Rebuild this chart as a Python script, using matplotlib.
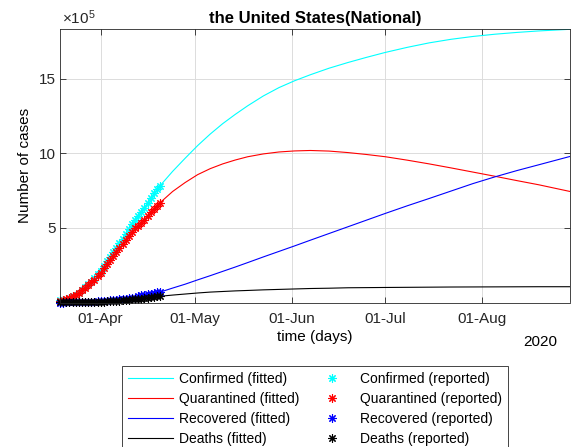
import datetime as dt
import matplotlib.pyplot as plt
import matplotlib.dates as mdates
from matplotlib.ticker import FuncFormatter

plt.rcParams['font.family'] = ['Liberation Sans', 'DejaVu Sans']
plt.rcParams['mathtext.fontset'] = 'custom'
plt.rcParams['mathtext.rm'] = 'Liberation Sans'

start = dt.date(2020, 3, 19)
end = dt.date(2020, 8, 29)

# reported data, one value per day from 19-Mar to 20-Apr
confirmed_rep = [13677, 19100, 25489, 33272, 43847, 53740, 65778, 83836, 101657,
                 121465, 140909, 161831, 188172, 213242, 243622, 275367, 308650,
                 336802, 366317, 397121, 428654, 462780, 496535, 526396, 555313,
                 580619, 607670, 636350, 667592, 699706, 732197, 759086, 784326]
quarantined_rep = [13369, 18709, 25006, 32667, 43117, 52686, 64475, 81946, 99207,
                   118367, 135777, 153209, 177275, 200011, 228695, 258573, 285591,
                   309735, 335953, 362636, 390400, 420892, 449159, 474663, 500305,
                   513608, 534075, 555929, 579973, 604388, 628693, 648088, 669903]
recovered_rep = [108, 147, 176, 178, 178, 348, 361, 681, 869, 1072, 2665, 5644,
                 7024, 8474, 9001, 9707, 14652, 17448, 19581, 21763, 23559, 25410,
                 28790, 31270, 32988, 43482, 47763, 52096, 54703, 58545, 64840,
                 70337, 72329]
deaths_rep = [200, 244, 307, 427, 552, 706, 942, 1209, 1581, 2026, 2467, 2978,
              3873, 4757, 5926, 7087, 8407, 9619, 10783, 12722, 14695, 16478,
              18586, 20463, 22020, 23529, 25832, 28325, 32916, 36773, 38664,
              40661, 42094]

# fitted model curves (x1e5), read at these day offsets from 19-Mar
fit_days = [0, 4, 8, 12, 16, 20, 24, 28, 32, 36, 40, 44, 48, 52, 56, 60, 65,
            70, 75, 80, 86, 92, 98, 104, 111, 118, 125, 132, 139, 146, 153, 163]
confirmed_fit = [0.14, 0.54, 1.02, 1.88, 3.09, 4.29, 5.55, 6.68, 7.84, 8.80,
                 9.68, 10.53, 11.30, 12.00, 12.62, 13.20, 13.86, 14.42, 14.88,
                 15.28, 15.72, 16.10, 16.45, 16.78, 17.12, 17.42, 17.66, 17.85,
                 18.00, 18.12, 18.22, 18.33]
quarantined_fit = [0.13, 0.52, 0.99, 1.77, 2.86, 3.90, 5.00, 5.80, 6.70, 7.45,
                   8.05, 8.58, 8.98, 9.30, 9.56, 9.78, 9.97, 10.10, 10.17, 10.20,
                   10.16, 10.06, 9.93, 9.78, 9.55, 9.30, 9.03, 8.75, 8.47, 8.18,
                   7.90, 7.45]
recovered_fit = [0.0, 0.01, 0.03, 0.08, 0.15, 0.24, 0.35, 0.50, 0.70, 0.97,
                 1.23, 1.52, 1.80, 2.09, 2.38, 2.68, 3.06, 3.43, 3.80, 4.18,
                 4.63, 5.08, 5.53, 5.98, 6.49, 6.98, 7.48, 7.98, 8.43, 8.85,
                 9.24, 9.80]
deaths_fit = [0.002, 0.007, 0.02, 0.04, 0.085, 0.15, 0.22, 0.33, 0.42, 0.50,
              0.57, 0.64, 0.70, 0.74, 0.78, 0.81, 0.85, 0.88, 0.91, 0.94,
              0.96, 0.99, 1.00, 1.01, 1.02, 1.03, 1.04, 1.045, 1.05, 1.055,
              1.06, 1.06]

scale = 1e5
rep_dates = [start + dt.timedelta(days=i) for i in range(len(confirmed_rep))]
fit_dates = [start + dt.timedelta(days=d) for d in fit_days]

fig = plt.figure(figsize=(5.77, 4.47), dpi=100)
ax = fig.add_axes([60 / 577, 1 - 302.5 / 447, 510 / 577, 273.5 / 447])

colors = ['#00ffff', '#ff0000', '#0000ff', '#000000']
names = ['Confirmed', 'Quarantined', 'Recovered', 'Deaths']
fits = [confirmed_fit, quarantined_fit, recovered_fit, deaths_fit]
reps = [confirmed_rep, quarantined_rep, recovered_rep, deaths_rep]

line_handles = []
for c, n, f in zip(colors, names, fits):
    h, = ax.plot(fit_dates, [v * scale for v in f], color=c, lw=0.8,
                 label=n + ' (fitted)')
    line_handles.append(h)
mark_handles = []
for c, n, r in zip(colors, names, reps):
    h, = ax.plot(rep_dates, r, ls='none', marker=(8, 2, 0), color=c, ms=6,
                 mew=0.8, label=n + ' (reported)', clip_on=False)
    mark_handles.append(h)

# MATLAB-like axes
ax.set_xlim(start, end)
ax.set_ylim(150, 18.35e5)
ax.set_yticks([5e5, 10e5, 15e5])
ax.yaxis.set_major_formatter(FuncFormatter(lambda v, p: '%g' % (v / scale)))
ax.xaxis.set_major_locator(mdates.MonthLocator(bymonth=[4, 5, 6, 7, 8]))
ax.xaxis.set_major_formatter(mdates.DateFormatter('%d-%b'))
ax.grid(True, color='#dcdcdc', lw=0.7)
ax.set_axisbelow(True)
ax.tick_params(direction='in', length=4, width=0.6, labelsize=11,
               top=True, right=True, colors='#262626')
ax.tick_params(axis='x', pad=6.5)
ax.tick_params(axis='y', pad=3)
for s in ax.spines.values():
    s.set_color('#262626')
    s.set_linewidth(0.6)

ax.set_title('the United States(National)', fontsize=12, fontweight='bold', pad=4)
ax.set_xlabel('time (days)', fontsize=11, labelpad=3)
ax.set_ylabel('Number of cases', fontsize=11, labelpad=5)
ax.text(0.003, 1.008, r'$\times\mathregular{10^{5}}$', transform=ax.transAxes,
        ha='left', va='bottom', fontsize=11, color='#262626')
fig.text(557 / 577, 1 - 342 / 447, '2020', ha='right', va='center', fontsize=11)

leg = fig.legend(line_handles + mark_handles,
                 [h.get_label() for h in line_handles + mark_handles],
                 loc='upper left', bbox_to_anchor=(122 / 577, 1 - 366 / 447),
                 ncol=2, fontsize=10, fancybox=False, edgecolor='#262626',
                 framealpha=1, borderaxespad=0, handlelength=3.3,
                 handletextpad=0.4, columnspacing=0.7, labelspacing=0.45,
                 borderpad=0.4)
leg.get_frame().set_linewidth(0.6)

fig.savefig('out.png', dpi=100)
